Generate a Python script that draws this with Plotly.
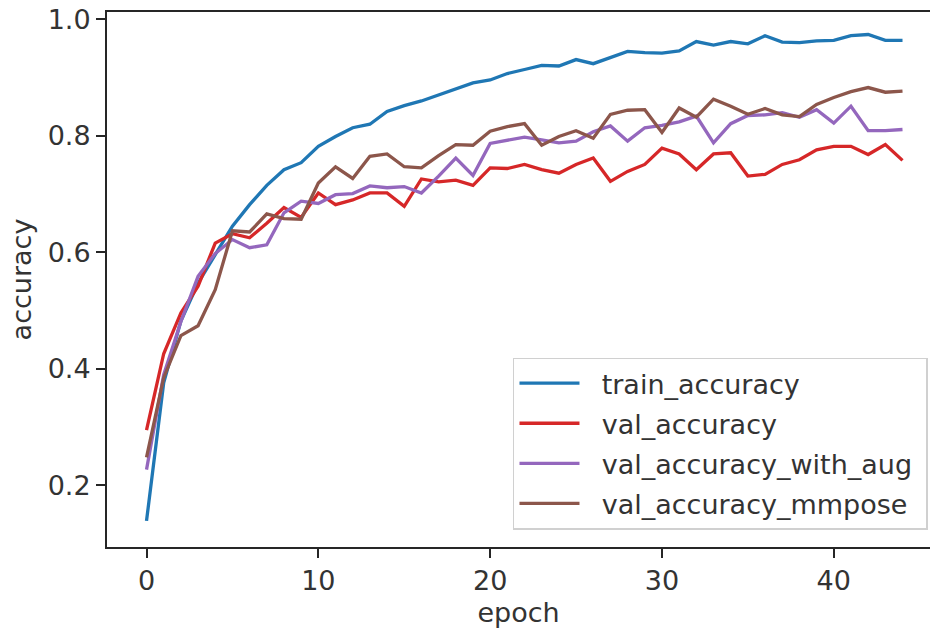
import plotly.graph_objects as go

epochs = list(range(45))

train_accuracy = [0.139, 0.376, 0.482, 0.547, 0.596, 0.645, 0.682, 0.715, 0.742, 0.754,
                  0.782, 0.799, 0.814, 0.820, 0.842, 0.852, 0.860, 0.870, 0.880, 0.891,
                  0.896, 0.907, 0.914, 0.921, 0.920, 0.931, 0.924, 0.934, 0.945, 0.943,
                  0.942, 0.946, 0.962, 0.956, 0.962, 0.958, 0.972, 0.961, 0.960, 0.963,
                  0.964, 0.972, 0.974, 0.964, 0.964]

val_accuracy = [0.295, 0.426, 0.496, 0.542, 0.616, 0.632, 0.625, 0.650, 0.677, 0.660,
                0.702, 0.682, 0.690, 0.702, 0.702, 0.679, 0.726, 0.721, 0.724, 0.715,
                0.745, 0.744, 0.751, 0.742, 0.736, 0.751, 0.762, 0.722, 0.739, 0.751,
                0.779, 0.769, 0.742, 0.769, 0.771, 0.731, 0.734, 0.751, 0.759, 0.776,
                0.782, 0.782, 0.768, 0.785, 0.758]

val_accuracy_with_aug = [0.227, 0.390, 0.481, 0.559, 0.598, 0.622, 0.608, 0.613, 0.668, 0.688,
                         0.684, 0.699, 0.701, 0.714, 0.711, 0.713, 0.702, 0.731, 0.762, 0.732,
                         0.787, 0.792, 0.798, 0.793, 0.788, 0.791, 0.807, 0.817, 0.791, 0.814,
                         0.818, 0.824, 0.834, 0.788, 0.821, 0.835, 0.836, 0.840, 0.832, 0.845,
                         0.822, 0.851, 0.809, 0.809, 0.811]

val_accuracy_mmpose = [0.248, 0.385, 0.457, 0.474, 0.536, 0.637, 0.635, 0.666, 0.658, 0.657,
                       0.719, 0.747, 0.727, 0.765, 0.769, 0.747, 0.745, 0.766, 0.785, 0.784,
                       0.808, 0.816, 0.821, 0.784, 0.799, 0.809, 0.796, 0.837, 0.844, 0.845,
                       0.806, 0.848, 0.832, 0.863, 0.851, 0.837, 0.847, 0.836, 0.833, 0.854,
                       0.866, 0.876, 0.883, 0.875, 0.877]

series_names = ["train_accuracy", "val_accuracy", "val_accuracy_with_aug", "val_accuracy_mmpose"]
series_colors = ["#1f77b4", "#d62728", "#9467bd", "#8c564b"]
x_ticks = [0, 10, 20, 30, 40]
y_ticks = [0.2, 0.4, 0.6, 0.8, 1.0]

FONT = "DejaVu Sans"
TXT = "#333333"
FS = 27

fig = go.Figure()
for name, vals, col in zip(series_names,
                           [train_accuracy, val_accuracy, val_accuracy_with_aug, val_accuracy_mmpose],
                           series_colors):
    fig.add_trace(go.Scatter(x=epochs, y=vals, mode="lines",
                             name="\u00a0\u00a0" + name + "\u00a0",
                             legendgroup=name,
                             line=dict(color=col, width=3.3)))

axis_common = dict(
    showline=True, linecolor="#262626", linewidth=2,
    ticks="outside", ticklen=9, tickwidth=2, tickcolor="#262626",
    showgrid=False, zeroline=False,
    tickfont=dict(family=FONT, size=FS, color=TXT),
)

fig.update_layout(
    width=930, height=635,
    margin=dict(l=107, r=0, t=12, b=88),
    paper_bgcolor="white", plot_bgcolor="white",
    font=dict(family=FONT, size=FS, color=TXT),
    xaxis=dict(range=[-2.3, 45.6], tickvals=x_ticks, ticktext=[str(t) for t in x_ticks],
               mirror=True,
               title=dict(text="epoch", font=dict(family=FONT, size=FS, color=TXT), standoff=8),
               **axis_common),
    yaxis=dict(range=[0.0942, 1.0127], tickvals=y_ticks, ticktext=[f"{t:.1f}" for t in y_ticks],
               title=dict(text="accuracy", font=dict(family=FONT, size=FS, color=TXT), standoff=8),
               **axis_common),
    legend=dict(x=0.4933, y=0.354, xanchor="left", yanchor="top",
                bgcolor="rgba(255,255,255,0.8)", bordercolor="#d0d0d0", borderwidth=1.5,
                font=dict(family=FONT, size=FS, color=TXT),
                itemwidth=60, tracegroupgap=2),
    showlegend=True,
)

fig.write_html("out.html")
